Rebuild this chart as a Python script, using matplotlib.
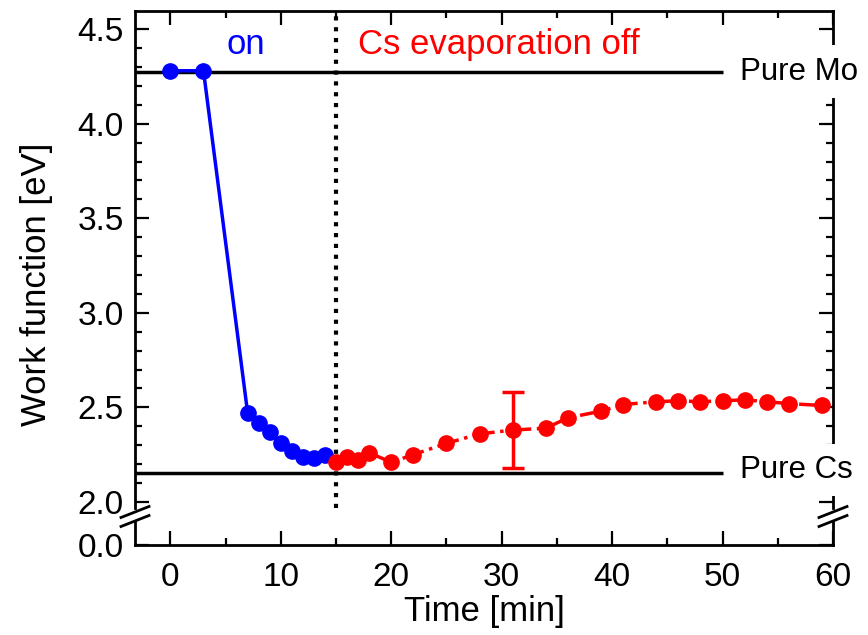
import matplotlib
matplotlib.use('Agg')
import matplotlib.pyplot as plt
from matplotlib.lines import Line2D
from matplotlib.ticker import MultipleLocator, FormatStrFormatter

plt.rcParams['font.family'] = ['Liberation Sans', 'DejaVu Sans']
plt.rcParams['font.size'] = 24

# Cs evaporation on
t_on = [0, 3, 7, 8, 9, 10, 11, 12, 13, 14]
wf_on = [4.28, 4.28, 2.47, 2.42, 2.37, 2.31, 2.27, 2.24, 2.23, 2.25]
# Cs evaporation off
t_off = [15, 16, 17, 18, 20, 22, 25, 28, 31, 34, 36, 39, 41, 44, 46, 48, 50, 52, 54, 56, 59]
wf_off = [2.21, 2.24, 2.22, 2.26, 2.21, 2.25, 2.31, 2.36, 2.38, 2.39, 2.445, 2.48, 2.515,
          2.53, 2.535, 2.53, 2.535, 2.54, 2.53, 2.52, 2.51]
err_t = [31]
err_wf = [2.38]
err_val = [0.2]

pure_mo = 4.275
pure_cs = 2.155
t_switch = 15
ref_end = 50

W, H = 868, 635
fig = plt.figure(figsize=(W / 100, H / 100), dpi=100)


def box(l, t, r, b):
    return [l / W, 1 - b / H, (r - l) / W, (b - t) / H]


ax = fig.add_axes(box(135, 11, 833, 508))
axb = fig.add_axes(box(135, 522, 833, 545))

xlim = (-3.2, 60)
for a in (ax, axb):
    a.set_xlim(*xlim)
    a.xaxis.set_major_locator(MultipleLocator(10))
    a.xaxis.set_minor_locator(MultipleLocator(5))
    for s in a.spines.values():
        s.set_linewidth(2)
    a.tick_params(which='both', direction='in', width=1.6)
    a.tick_params(which='major', length=10)
    a.tick_params(which='minor', length=5)

ax.set_ylim(1.968, 4.596)
ax.yaxis.set_major_locator(MultipleLocator(0.5))
ax.yaxis.set_minor_locator(MultipleLocator(0.1))
ax.yaxis.set_major_formatter(FormatStrFormatter('%.1f'))
ax.spines['bottom'].set_visible(False)
ax.tick_params(which='both', bottom=False, labelbottom=False, top=True, right=True)
ax.tick_params(axis='y', pad=8)

axb.set_ylim(0, 0.1)
axb.set_yticks([0])
axb.set_yticklabels(['0.0'])
axb.spines['top'].set_visible(False)
axb.tick_params(which='both', top=False, right=True)
axb.tick_params(axis='y', pad=8)
axb.tick_params(axis='x', pad=12)
axb.set_xlabel('Time [min]', fontsize=25, labelpad=2)

ax.set_ylabel('Work function [eV]', fontsize=25)
ax.yaxis.set_label_coords(-0.118, 0.45)

# reference levels
ax.hlines([pure_mo, pure_cs], xlim[0], ref_end, color='black', lw=2.5, zorder=2)
ax.axvline(t_switch, color='black', ls=(0, (1, 1.6)), lw=3, zorder=2)

ax.plot(t_on, wf_on, '-o', color='blue', ms=11, lw=2.5, zorder=3)
ax.plot(t_off, wf_off, '-.o', color='red', ms=11, lw=2.5, zorder=3)
ax.errorbar(err_t, err_wf, yerr=err_val, fmt='none', ecolor='red', elinewidth=2.5,
            capsize=8, capthick=2.5, zorder=3)

ax.text(6.8, 4.42, 'on', color='blue', ha='center', va='center', fontsize=25)
ax.text(17, 4.42, 'Cs evaporation off', color='red', ha='left', va='center', fontsize=25)
for y, lab in ((pure_mo, 'Pure Mo'), (pure_cs + 0.015, 'Pure Cs')):
    ax.text(51.6, y, lab, ha='left', va='center', zorder=10, clip_on=False, fontsize=22.5,
            bbox=dict(facecolor='white', edgecolor='none', pad=8))

# axis break marks
for xc in (135, 833):
    for yc in (512, 521):
        fig.add_artist(Line2D([(xc - 14) / W, (xc + 14) / W],
                              [1 - (yc + 5.5) / H, 1 - (yc - 5.5) / H],
                              color='black', lw=2))

fig.savefig('out.png', dpi=100)
